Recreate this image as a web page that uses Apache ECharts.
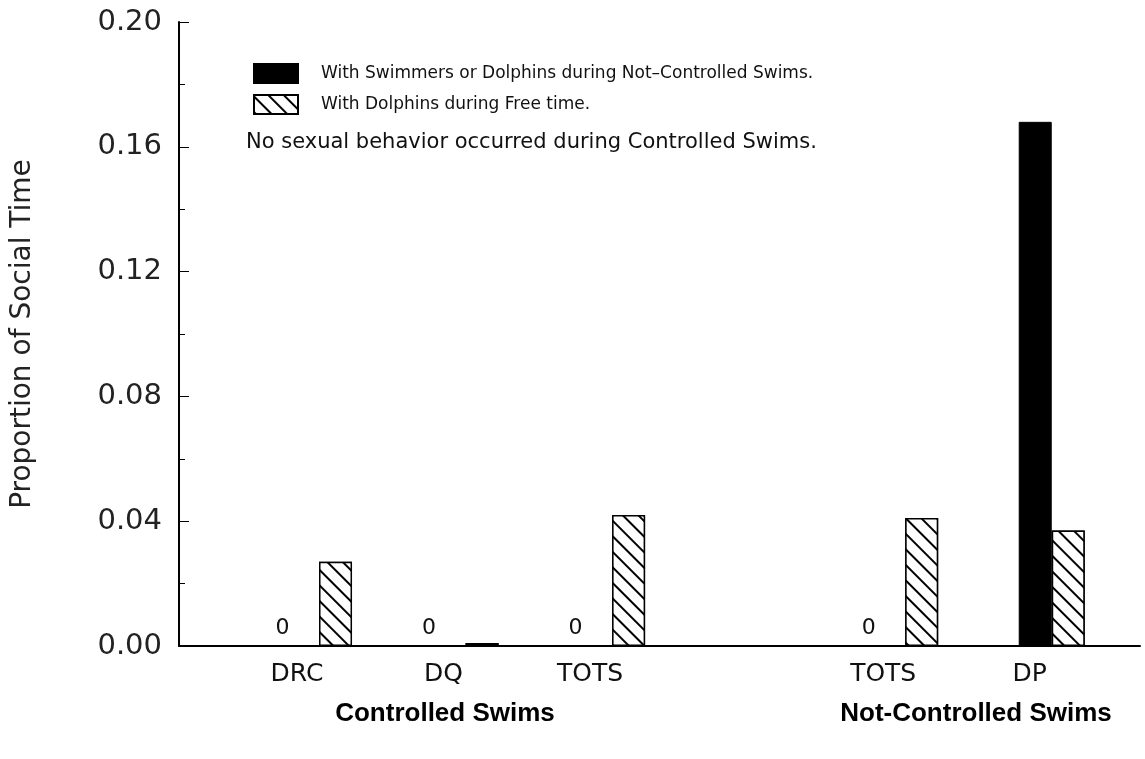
<!DOCTYPE html>
<html>
<head>
<meta charset="utf-8">
<script src="https://cdn.jsdelivr.net/npm/echarts@6/dist/echarts.min.js"></script>
<style>html,body{margin:0;padding:0;background:#fff;}#c{width:1145px;height:759px;}</style>
</head>
<body>
<div id="c"></div>
<script>
const categories = ['DRC', 'DQ', 'TOTS', '', 'TOTS', 'DP'];
const swimmersValues = [0, 0, 0, null, 0, 0.168];
const freeTimeValues = [0.027, 0.001, 0.042, null, 0.041, 0.037];
const seriesNames = ['With Swimmers or Dolphins during Not\u2013Controlled Swims.', 'With Dolphins during Free time.'];
const note = 'No sexual behavior occurred during Controlled Swims.';
const groupTitles = ['Controlled Swims', 'Not-Controlled Swims'];
const yMin = 0, yMax = 0.20, yStep = 0.04;

const chart = echarts.init(document.getElementById('c'));
const hatch = {
  symbol: 'rect', symbolSize: 1, color: '#000', backgroundColor: '#fff',
  dashArrayX: [1, 0], dashArrayY: [2, 9], rotation: Math.PI / 4
};
const fontLight = 'DejaVu Sans';
chart.setOption({
  backgroundColor: '#fff',
  animation: false,
  title: [
    { text: note, left: 241, top: 127, textStyle: { fontFamily: fontLight, fontSize: 21, fontWeight: 'normal', color: '#111' } },
    { text: groupTitles[0], left: 440, top: 696, textAlign: 'center', textStyle: { fontFamily: 'Liberation Sans', fontSize: 26, fontWeight: 'bold', color: '#000' } },
    { text: groupTitles[1], left: 971, top: 696, textAlign: 'center', textStyle: { fontFamily: 'Liberation Sans', fontSize: 26, fontWeight: 'bold', color: '#000' } }
  ],
  legend: {
    orient: 'vertical', left: 248, top: 58, itemWidth: 44, itemHeight: 19, itemGap: 10,
    icon: 'rect',
    data: seriesNames, selectedMode: false,
    textStyle: { fontFamily: fontLight, fontSize: 17, color: '#111', padding: [0, 0, 0, 18] }
  },
  grid: [
    { left: 179, right: 5, top: 22, bottom: 113, outerBoundsMode: 'none', containLabel: false },
    { left: 245.75, right: 20, top: 22, bottom: 113, outerBoundsMode: 'none', containLabel: false }
  ],
  xAxis: [
    { gridIndex: 0, type: 'value', min: 0, max: 1, axisLine: { show: true, onZero: false, lineStyle: { color: '#000', width: 2 } },
      axisTick: { show: false }, axisLabel: { show: false }, splitLine: { show: false } },
    { gridIndex: 1, type: 'category', data: categories, axisLine: { show: false }, axisTick: { show: false },
      axisLabel: { interval: 0, margin: 16, fontFamily: fontLight, fontSize: 25, color: '#111', padding: [0, 44, 0, 0] } }
  ],
  yAxis: [
    { gridIndex: 0, type: 'value', min: yMin, max: yMax, interval: yStep,
      name: 'Proportion of Social Time', nameLocation: 'middle', nameGap: 142,
      nameTextStyle: { fontFamily: fontLight, fontSize: 28, color: '#222' },
      axisLine: { show: true, lineStyle: { color: '#000', width: 2 } },
      axisTick: { show: true, inside: true, length: 10, lineStyle: { color: '#000', width: 1 } },
      minorTick: { show: true, splitNumber: 2, length: 6, lineStyle: { color: '#000', width: 1 } },
      splitLine: { show: false },
      axisLabel: { margin: 17, fontFamily: fontLight, fontSize: 29, color: '#222', formatter: v => v.toFixed(2) } },
    { gridIndex: 1, type: 'value', min: yMin, max: yMax, show: false, splitLine: { show: false } }
  ],
  series: [
    { name: seriesNames[0], type: 'bar', xAxisIndex: 1, yAxisIndex: 1, data: swimmersValues, barWidth: 33, barGap: '0%',
      itemStyle: { color: '#000', borderColor: '#000', borderWidth: 1 },
      label: { show: true, position: 'top', offset: [-20, -1], fontFamily: fontLight, fontSize: 22, color: '#111',
        formatter: p => (p.value === 0 ? '0' : '') } },
    { name: seriesNames[1], type: 'bar', xAxisIndex: 1, yAxisIndex: 1, data: freeTimeValues, barWidth: 33, barGap: '0%',
      itemStyle: { color: '#fff', borderColor: '#000', borderWidth: 1.5, decal: hatch } }
  ]
});
</script>
</body>
</html>
